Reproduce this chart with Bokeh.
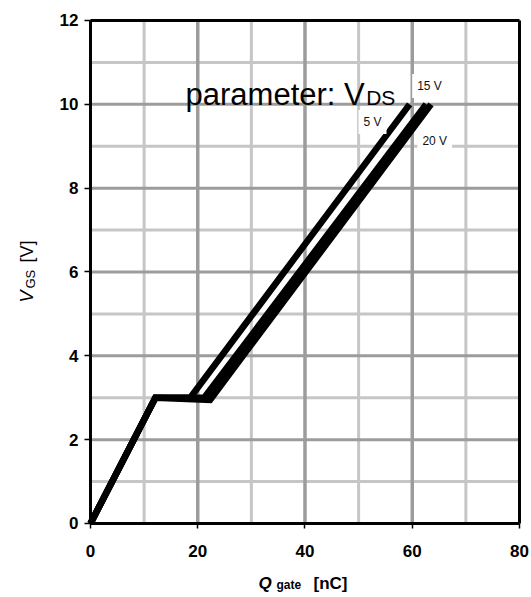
from bokeh.plotting import figure
from bokeh.models import FixedTicker, Label, Range1d, LinearAxis
from bokeh.embed import file_html
from bokeh.resources import INLINE
import math

# ---- data ----
series_names = ["20 V", "15 V", "5 V"]
q_20 = [0, 12.1, 22.3, 63.5]
v_20 = [0, 3.0, 2.95, 10.0]
q_15 = [0, 12.1, 21.2, 62.6]
v_15 = [0, 3.0, 3.0, 10.0]
q_5 = [0, 12.1, 18.6, 59.5]
v_5 = [0, 3.0, 3.0, 10.0]

x_ticks = [0, 20, 40, 60, 80]
x_minor = [10, 30, 50, 70]
y_ticks = [0, 2, 4, 6, 8, 10, 12]
y_minor = [1, 3, 5, 7, 9, 11]
x_lim = (0, 80)
y_lim = (0, 12)

FONT = "Liberation Sans"

# the frame covers the whole canvas; the chart's axes sit at fixed data locations
p = figure(width=529, height=595, x_range=Range1d(-16.783, 81.865), y_range=Range1d(-1.7177, 12.477),
           output_backend="svg", toolbar_location=None,
           min_border_left=0, min_border_right=0, min_border_top=0, min_border_bottom=0)
p.background_fill_color = "white"
p.border_fill_color = "white"
p.outline_line_color = None
p.xgrid.visible = False
p.ygrid.visible = False

# grid lines across the chart area
x_major_inner = [t for t in x_ticks if x_lim[0] < t < x_lim[1]]
y_major_inner = [t for t in y_ticks if y_lim[0] < t < y_lim[1]]
p.segment(x0=x_minor, y0=[y_lim[0]] * len(x_minor), x1=x_minor, y1=[y_lim[1]] * len(x_minor),
          line_color="#c6c6c6", line_width=3)
p.segment(x0=[x_lim[0]] * len(y_minor), y0=y_minor, x1=[x_lim[1]] * len(y_minor), y1=y_minor,
          line_color="#c6c6c6", line_width=3)
p.segment(x0=x_major_inner, y0=[y_lim[0]] * len(x_major_inner), x1=x_major_inner,
          y1=[y_lim[1]] * len(x_major_inner), line_color="#9c9c9c", line_width=3.5)
p.segment(x0=[x_lim[0]] * len(y_major_inner), y0=y_major_inner, x1=[x_lim[1]] * len(y_major_inner),
          y1=y_major_inner, line_color="#9c9c9c", line_width=3)

# axes
p.xaxis.ticker = FixedTicker(ticks=x_ticks, minor_ticks=[])
p.yaxis.ticker = FixedTicker(ticks=y_ticks, minor_ticks=[])
p.xaxis.fixed_location = y_lim[0]
p.yaxis.fixed_location = x_lim[0]
p.xaxis.bounds = x_lim
p.yaxis.bounds = y_lim
for ax in (p.xaxis, p.yaxis):
    ax.axis_line_color = "black"
    ax.axis_line_width = 3
    ax.major_tick_line_color = "black"
    ax.major_tick_line_width = 1.5
    ax.major_tick_in = 0
    ax.minor_tick_line_color = None
    ax.major_label_text_font = FONT
    ax.major_label_text_font_style = "bold"
    ax.major_label_text_font_size = "17px"
    ax.major_label_text_color = "black"
p.yaxis.major_tick_out = 6
p.yaxis.major_label_standoff = 6
p.xaxis.major_tick_out = 5
p.xaxis.major_label_standoff = 17

# top and right border lines as bare axes
top_ax = LinearAxis(fixed_location=y_lim[1], bounds=x_lim, ticker=FixedTicker(ticks=[], minor_ticks=[]),
                    axis_line_width=3, axis_line_color="black", major_tick_line_color=None,
                    minor_tick_line_color=None, major_label_text_color=None)
right_ax = LinearAxis(fixed_location=x_lim[1], bounds=y_lim, ticker=FixedTicker(ticks=[], minor_ticks=[]),
                      axis_line_width=3, axis_line_color="black", major_tick_line_color=None,
                      minor_tick_line_color=None, major_label_text_color=None)
p.add_layout(top_ax, "above")
p.add_layout(right_ax, "right")

# curves
for qs, vs in ((q_20, v_20), (q_15, v_15), (q_5, v_5)):
    p.line(qs, vs, line_color="black", line_width=6.5, line_join="miter")

# parameter text
p.add_layout(Label(x=17.72, y=10.235, text="parameter: V", text_font=FONT,
                   text_font_size="31px", text_color="black", text_baseline="alphabetic"))
p.add_layout(Label(x=51.4, y=10.163, text="DS", text_font=FONT,
                   text_font_size="21px", text_color="black", text_baseline="alphabetic"))

# curve labels
for txt, lx, ly in (("15 V", 63.22, 10.44), ("5 V", 52.59, 9.578), ("20 V", 64.2, 9.12)):
    p.add_layout(Label(x=lx, y=ly, text=txt, text_font=FONT, text_font_size="12px",
                       text_color="#111111", text_align="center", text_baseline="middle",
                       background_fill_color="white", padding=5))

# y axis title (rotated)
rot = math.pi / 2
ylab = dict(angle=rot, text_font=FONT, text_baseline="alphabetic", text_color="black")
p.add_layout(Label(x=-11.75, y=5.272, text="V", text_font_style="italic", text_font_size="18px", **ylab))
p.add_layout(Label(x=-11.19, y=5.606, text="GS", text_font_size="13px", **ylab))
p.add_layout(Label(x=-11.75, y=6.227, text="[V]", text_font_size="18px", **ylab))

# x axis title
xlab = dict(text_font=FONT, text_baseline="alphabetic", text_color="black")
p.add_layout(Label(x=31.33, y=-1.431, text="Q", text_font_style="bold italic", text_font_size="17px", **xlab))
p.add_layout(Label(x=34.69, y=-1.479, text="gate", text_font_style="bold", text_font_size="12px", **xlab))
p.add_layout(Label(x=41.58, y=-1.431, text="[nC]", text_font_style="bold", text_font_size="17px", **xlab))

open("out.html", "w").write(file_html(p, INLINE))
